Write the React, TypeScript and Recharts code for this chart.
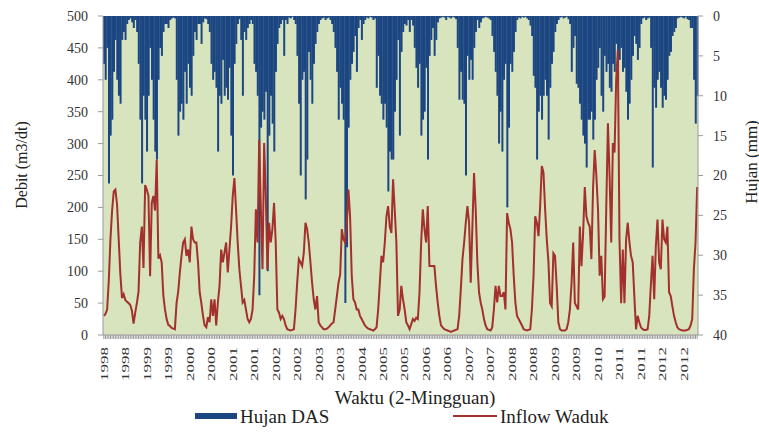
import React from 'react';
import { ComposedChart, Bar, Line, XAxis, YAxis, CartesianGrid } from 'recharts';

// tahun pengamatan, 24 periode 2-mingguan per tahun
const years = [1998, 1999, 2000, 2001, 2002, 2003, 2004, 2005, 2006, 2007, 2008, 2009, 2010, 2011, 2012];

// Hujan DAS (mm), satu baris per tahun
const rain: number[] = [
  6, 8, 4, 21, 15, 13, 7, 3, 8, 10, 11, 3, 2, 3, 1, 0.5, 0.3, 0.8, 1.5, 0.5, 2, 6, 13, 21,
  10, 13, 17, 10, 4, 8, 13, 17, 18, 8, 4, 5, 2, 1, 1, 1.5, 0.5, 0.3, 0.2, 0.3, 8, 15, 12, 11,
  13, 7, 11, 6, 9, 10, 5, 2, 3, 1, 1, 3.5, 0.8, 0.3, 0.4, 1, 2, 6, 8, 7, 9, 17, 10, 11,
  5.5, 10, 9, 10.5, 6.5, 15, 20, 6, 3.5, 1, 0.4, 3, 10, 2, 3, 1.5, 1, 0.5, 1, 6, 7, 10, 35, 14,
  12, 13, 9.5, 32, 15, 10, 13.5, 17, 7, 3.5, 1.5, 1, 0.5, 5, 0.5, 1, 0.2, 0.3, 0.1, 0.5, 1, 5, 11, 20,
  8, 7, 23, 18, 4.5, 8, 11, 6, 3.5, 2, 1, 0.5, 0.3, 0.2, 0.5, 0.3, 0.2, 0.5, 1, 2, 4, 7, 13, 9,
  11, 13, 36, 29, 14, 8, 6, 4.5, 2.5, 7, 1.5, 0.5, 3, 1, 0.5, 0.2, 0.3, 0.1, 0.2, 0.5, 0.3, 9, 5, 10,
  11, 13, 11, 14, 22, 17, 18, 18, 12, 8, 3, 15, 4.5, 2, 1, 1.2, 0.5, 2, 0.5, 1.2, 4, 6.5, 9, 6,
  15, 13, 12, 6.5, 18, 5, 3, 1.5, 5, 3, 0.8, 0.3, 0.2, 0.1, 0.2, 0.5, 0.1, 0.2, 0.3, 0.1, 0.2, 0.4, 4, 10.5,
  7, 10.5, 11, 20, 5, 8, 5.5, 8, 4, 2, 0.5, 1.5, 0.8, 0.3, 0.2, 0.1, 0.2, 0.3, 0.5, 2.5, 4.5, 7, 10, 16,
  12, 17, 8, 6, 24, 14, 6, 7, 4.5, 2, 0.5, 0.2, 0.3, 0.1, 0.2, 0.1, 0.3, 0.5, 1.2, 2.5, 7.5, 9, 18, 12,
  10, 13, 10, 8, 10, 15.5, 9, 6, 4.5, 2, 1, 0.5, 0.2, 0.1, 0.3, 0.2, 0.1, 0.4, 1, 7, 4, 2.5, 8.5, 9,
  11, 13, 15, 16, 19, 13, 13, 12, 15.5, 13, 8, 6.5, 4, 10, 12, 5, 7, 6, 9, 9.5, 6, 7, 3.5, 8,
  5.5, 4, 7, 6.5, 9.5, 13, 11, 8, 5, 2.5, 3.5, 5.5, 4, 1, 0.3, 0.2, 0.5, 0.3, 0.2, 4, 19, 9, 11.5, 8,
  7, 9, 11.5, 10, 10.5, 8, 5, 4.5, 2.5, 2, 1.5, 0.3, 0.2, 0.1, 0.2, 0.3, 0.1, 0.4, 0.5, 1.5, 1.5, 8, 13.5, 10,
];

// Inflow Waduk (m3/dt), satu baris per tahun
const inflow: number[] = [
  30, 33, 40, 85, 150, 195, 225, 228, 205, 150, 95, 58, 64, 55, 52, 50, 47, 38, 18, 35, 50, 68, 145, 170,
  105, 235, 228, 218, 92, 207, 218, 195, 275, 120, 125, 114, 62, 40, 25, 16, 14, 11, 10, 9, 50, 68, 98, 124,
  145, 150, 124, 134, 114, 170, 150, 145, 145, 114, 67, 50, 30, 15, 12, 28, 20, 56, 30, 56, 15, 51, 77, 134,
  114, 129, 145, 98, 134, 170, 218, 246, 197, 145, 103, 77, 51, 55, 40, 25, 20, 25, 40, 93, 197, 145, 306, 200,
  103, 301, 218, 103, 176, 145, 166, 207, 145, 40, 35, 25, 30, 25, 15, 9, 8, 7, 8, 9, 40, 82, 119, 114,
  108, 129, 176, 166, 145, 114, 82, 56, 40, 61, 20, 15, 12, 9, 9, 10, 12, 15, 18, 20, 40, 61, 82, 95,
  166, 150, 145, 171, 228, 186, 93, 56, 51, 40, 40, 30, 25, 20, 15, 12, 10, 9, 8, 7, 9, 12, 40, 82,
  124, 114, 145, 186, 202, 170, 160, 244, 197, 145, 30, 40, 77, 56, 40, 20, 15, 9, 17, 25, 22, 27, 25, 67,
  145, 197, 166, 145, 202, 108, 108, 108, 108, 77, 51, 30, 15, 12, 9, 8, 7, 6, 5, 6, 7, 8, 9, 30,
  72, 119, 145, 176, 202, 176, 82, 170, 254, 197, 114, 67, 51, 40, 25, 15, 9, 8, 7, 12, 40, 77, 51, 77,
  61, 61, 67, 40, 191, 176, 166, 145, 93, 51, 30, 25, 20, 15, 9, 8, 7, 8, 9, 40, 93, 186, 176, 155,
  202, 265, 255, 197, 150, 115, 50, 45, 128, 124, 77, 20, 9, 7, 7, 7, 9, 20, 40, 82, 145, 50, 45, 40,
  170, 108, 160, 232, 186, 176, 170, 119, 230, 290, 250, 197, 93, 124, 56, 60, 200, 332, 250, 145, 301, 286, 400, 447,
  150, 50, 134, 50, 150, 176, 145, 124, 114, 60, 9, 30, 20, 12, 9, 8, 8, 9, 30, 80, 124, 56, 140, 181,
  114, 103, 181, 150, 145, 170, 67, 61, 45, 30, 20, 12, 9, 8, 7, 7, 7, 8, 9, 15, 25, 103, 145, 232,
];

const debitTicks = [0, 50, 100, 150, 200, 250, 300, 350, 400, 450, 500];
const hujanTicks = [0, 5, 10, 15, 20, 25, 30, 35, 40];

const data = rain.map((r, i) => ({
  period: `${years[Math.floor(i / 24)]} ${(i % 24) + 1}`,
  rain: r,
  inflow: inflow[i],
}));

const SERIF = '"Liberation Serif", "Times New Roman", serif';
const BLUE = '#1c4682';
const RED = '#a3302c';

const YearTick = (props: any) => {
  const { x, y, index, payload } = props;
  if (index % 13 !== 0) return null;
  return (
    <text
      transform={`translate(${x},${y}) rotate(-90) scale(1,0.65)`}
      textAnchor="end"
      dominantBaseline="central"
      fontFamily={SERIF}
      fontSize={17}
      fill="#333"
    >
      {String(payload.value).split(' ')[0]}
    </text>
  );
};

// judul sumbu, posisinya diatur sendiri (props Label dari recharts diabaikan)
const AxisTitle = ({ tx, ty, text, rot = 0, size = 16 }: any) => (
  <text
    transform={`translate(${tx},${ty}) rotate(${rot})`}
    textAnchor="middle"
    dominantBaseline="central"
    fontFamily={SERIF}
    fontSize={size}
    fill="#222"
  >
    {text}
  </text>
);

export default function App() {
  return (
    <div style={{ position: 'absolute', left: 0, top: 0, width: 759, height: 432, background: '#fff' }}>
      <ComposedChart
        width={759}
        height={432}
        data={data}
        margin={{ top: 16, right: 0, bottom: 0, left: 0 }}
        barCategoryGap="4%"
      >
        <CartesianGrid yAxisId="left" horizontal={false} vertical={false} fill="#d7e4bd" fillOpacity={1} />
        <XAxis
          dataKey="period"
          interval={0}
          height={97}
          tick={<YearTick />}
          tickSize={4}
          tickMargin={8}
          tickLine={{ stroke: '#9a9a9a' }}
          axisLine={{ stroke: '#9a9a9a' }}
          label={<AxisTitle tx={415} ty={397} text="Waktu (2-Mingguan)" size={19} />}
        />
        <YAxis
          yAxisId="left"
          width={103}
          domain={[0, 500]}
          ticks={debitTicks}
          interval={0}
          tickSize={5}
          tickMargin={10}
          tick={{ fontFamily: SERIF, fontSize: 14, fill: '#333' }}
          tickLine={{ stroke: '#9a9a9a' }}
          axisLine={{ stroke: '#9a9a9a' }}
          label={<AxisTitle tx={21} ty={165} rot={-90} text="Debit (m3/dt)" size={16} />}
        />
        <YAxis
          yAxisId="rain"
          orientation="right"
          width={61}
          reversed
          domain={[0, 40]}
          ticks={hujanTicks}
          interval={0}
          tickSize={5}
          tickMargin={10}
          tick={{ fontFamily: SERIF, fontSize: 14, fill: '#333' }}
          tickLine={{ stroke: '#9a9a9a' }}
          axisLine={{ stroke: '#9a9a9a' }}
          label={<AxisTitle tx={751} ty={162} rot={-90} text="Hujan (mm)" size={17} />}
        />
        <Bar dataKey="rain" yAxisId="rain" fill={BLUE} isAnimationActive={false} />
        <Line
          dataKey="inflow"
          yAxisId="left"
          type="linear"
          stroke={RED}
          strokeWidth={2}
          dot={false}
          activeDot={false}
          isAnimationActive={false}
        />
      </ComposedChart>
      <div
        style={{
          position: 'absolute',
          left: 0,
          top: 406,
          width: 759,
          height: 24,
          fontFamily: SERIF,
          fontSize: 19,
          color: '#222',
        }}
      >
        <div style={{ position: 'absolute', left: 195, top: 7, width: 42, height: 6, background: BLUE }} />
        <div style={{ position: 'absolute', left: 240, top: 0, lineHeight: '22px' }}>Hujan DAS</div>
        <div style={{ position: 'absolute', left: 453, top: 9, width: 44, height: 2, background: RED }} />
        <div style={{ position: 'absolute', left: 500, top: 0, lineHeight: '22px' }}>Inflow Waduk</div>
      </div>
    </div>
  );
}
